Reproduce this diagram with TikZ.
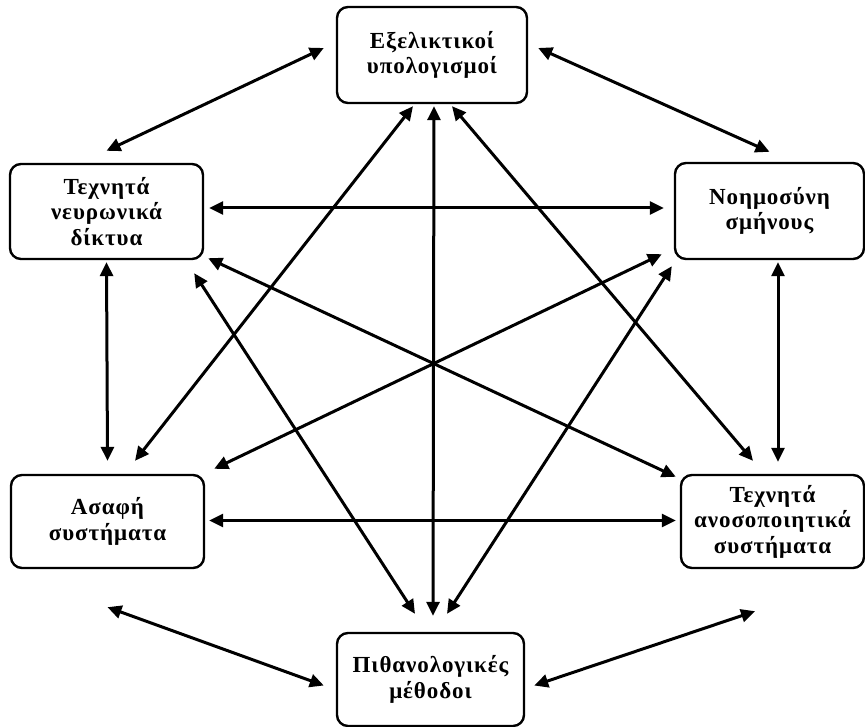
\documentclass[tikz,border=0pt]{standalone}
\usepackage{fontspec}
\setmainfont{Liberation Serif}[LetterSpace=4]
\usetikzlibrary{arrows.meta}
\begin{document}
\begin{tikzpicture}[x=1pt,y=-1pt,
  box/.style={draw,line width=2.4pt,rounded corners=11pt,align=center,
    inner sep=0pt,font=\fontsize{23}{25.5}\selectfont\bfseries},
  link/.style={line width=3pt,{Triangle[length=14pt,width=13pt]}-{Triangle[length=14pt,width=13pt]}}]
\useasboundingbox (0,0) rectangle (865,727);
% the six fields of computational intelligence
\node[box,minimum width=190pt,minimum height=96pt] (top) at (432,55) {Εξελικτικοί\\υπολογισμοί};
\node[box,minimum width=193pt,minimum height=95pt] (ann) at (106.5,211.5) {Τεχνητά\\νευρωνικά\\δίκτυα};
\node[box,minimum width=189pt,minimum height=96pt] (swarm) at (769.5,211) {Νοημοσύνη\\σμήνους};
\node[box,minimum width=193pt,minimum height=93pt] (fuzzy) at (107.5,521.5) {Ασαφή\\συστήματα};
\node[box,minimum width=183pt,minimum height=93pt] (ais) at (772.5,521.5) {Τεχνητά\\ανοσοποιητικά\\συστήματα};
\node[box,minimum width=187pt,minimum height=93pt] (bot) at (430.5,679.5) {Πιθανολογικές\\μέθοδοι};
% outer ring
\draw[link] ([shift={(-12,-7)}]top.west) -- ([shift={(0,-12)}]ann.north);
\draw[link] ([shift={(10,-7)}]top.east) -- ([shift={(0,-10)}]swarm.north);
\draw[link] ([shift={(5,-3.5)}]ann.east) -- ([shift={(-10,-3)}]swarm.west);
\draw[link] ([shift={(0,2)}]ann.south) -- ([shift={(0,-13)}]fuzzy.north);
\draw[link] ([shift={(8.5,2)}]swarm.south) -- ([shift={(5.5,-12)}]ais.north);
\draw[link] ([shift={(4,-1)}]fuzzy.east) -- ([shift={(-4,-1)}]ais.west);
\draw[link] ([shift={(0,38)}]fuzzy.south) -- ([shift={(-12,6)}]bot.west);
\draw[link] ([shift={(-17.5,42)}]ais.south) -- ([shift={(9,6)}]bot.east);
% inner connections
\draw[link] ([shift={(2,2)}]top.south) -- ([shift={(2.5,-16)}]bot.north);
\draw[link] ([shift={(-19,2)}]top.south) -- ([shift={(27.5,-13)}]fuzzy.north);
\draw[link] ([shift={(20,2)}]top.south) -- ([shift={(-19.5,-13)}]ais.north);
\draw[link] ([shift={(-15.5,-18)}]bot.north) -- ([shift={(-10,13)}]ann.south east);
\draw[link] ([shift={(16.5,-18)}]bot.north) -- ([shift={(-2,6)}]swarm.south west);
\draw[link] ([shift={(4,-2)}]ann.south east) -- ([shift={(-4,3)}]ais.north west);
\draw[link] ([shift={(-12,-6)}]swarm.south west) -- ([shift={(9,-5)}]fuzzy.north east);
\end{tikzpicture}
\end{document}
